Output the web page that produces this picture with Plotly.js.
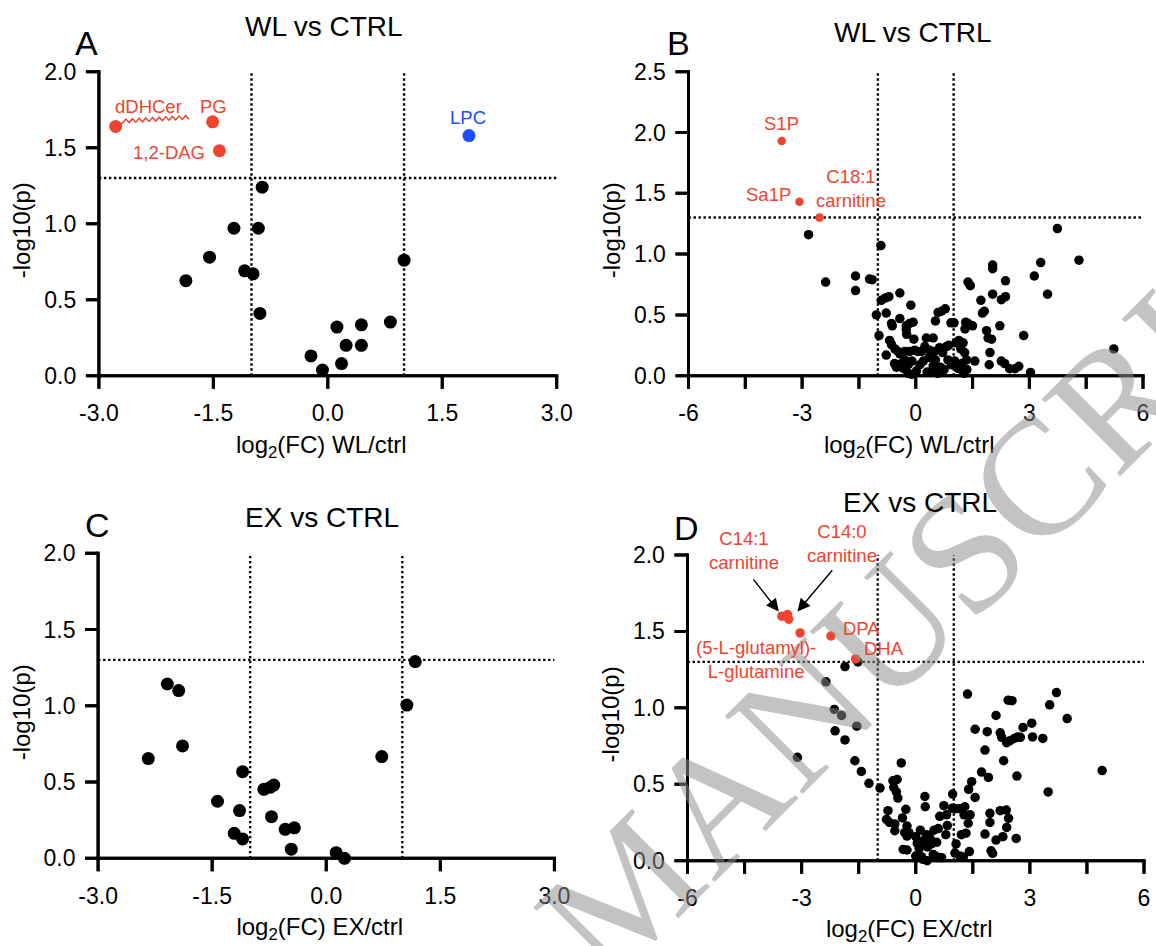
<!DOCTYPE html>
<html>
<head>
<meta charset="utf-8">
<script src="https://cdn.plot.ly/plotly-3.0.1.min.js"></script>
<style>
html,body{margin:0;padding:0;background:#ffffff;}
#chart{width:1156px;height:946px;}
</style>
</head>
<body>
<div id="chart"></div>
<script>
// ---------- DATA ----------
// Panel A : WL vs CTRL (lipid classes)
const aBlackX = [-0.86,-1.23,-0.91,-1.55,-1.86,-1.09,-0.98,-0.89,1.00,0.12,0.44,0.82,0.24,0.44,-0.22,0.18,-0.07];
const aBlackY = [1.24,0.97,0.97,0.78,0.625,0.69,0.67,0.41,0.76,0.32,0.335,0.353,0.20,0.20,0.13,0.08,0.037];
const aRedNames = ['dDHCer','PG','1,2-DAG'];
const aRedX = [-2.78,-1.51,-1.42];
const aRedY = [1.64,1.67,1.48];
const aBlueNames = ['LPC'];
const aBlueX = [1.85];
const aBlueY = [1.58];

// Panel B : WL vs CTRL (metabolites)
const bBlackX = [-2.83,-2.38,-1.59,-1.59,-1.22,-1.15,-0.92,-0.91,-0.80,-0.71,-1.04,-0.78,-0.42,-0.13,-0.64,-0.62,-0.42,-0.25,-0.16,-0.07,
  -0.25,-0.24,-0.97,-0.69,-0.64,-0.55,-0.47,-0.78,-0.42,-0.29,-0.16,-0.03,-0.51,-0.38,-0.29,-0.20,-0.10,-0.20,-0.11,0.02,
  0.11,-0.33,0.24,0.28,0.37,0.46,0.52,0.59,0.68,0.78,0.50,0.63,0.52,0.46,0.41,0.71,0.81,0.87,0.93,1.01,
  0.85,0.94,1.03,1.12,1.20,1.06,1.14,1.25,1.19,1.29,1.34,1.32,1.38,1.50,1.30,1.38,1.44,1.56,1.72,1.76,
  1.81,1.87,1.91,2.00,1.96,1.94,2.03,2.03,2.03,2.22,2.26,2.37,2.37,2.26,2.35,2.48,2.62,2.72,2.85,3.03,
  3.13,3.30,3.48,3.74,4.31,5.23,0.30,0.35,0.20,0.15,0.58,0.65,0.75,1.27,1.35,1.22,-0.56,-0.05,0.05];
const bBlackY = [1.16,0.77,0.82,0.70,0.795,0.79,1.07,0.62,0.64,0.65,0.50,0.515,0.68,0.58,0.43,0.41,0.47,0.41,0.43,0.44,
  0.38,0.34,0.33,0.29,0.255,0.22,0.20,0.17,0.18,0.20,0.20,0.21,0.07,0.10,0.13,0.09,0.12,0.02,0.01,0.04,
  0.09,0.06,0.24,0.31,0.21,0.31,0.45,0.52,0.53,0.55,0.20,0.23,0.13,0.08,0.03,0.19,0.24,0.25,0.435,0.435,
  0.13,0.09,0.12,0.06,0.07,0.27,0.29,0.27,0.22,0.19,0.13,0.44,0.43,0.41,0.385,0.77,0.74,0.12,0.62,0.515,
  0.53,0.37,0.31,0.30,0.19,0.09,0.91,0.88,0.67,0.41,0.625,0.65,0.78,0.12,0.10,0.058,0.058,0.077,0.33,0.027,
  0.82,0.93,0.67,1.21,0.95,0.22,0.03,0.15,0.12,0.20,0.02,0.07,0.05,0.02,0.05,0.10,0.10,0.30,0.20];
const bRedNames = ['S1P','Sa1P','C18:1 carnitine'];
const bRedX = [-3.54,-3.07,-2.54];
const bRedY = [1.93,1.43,1.30];

// Panel C : EX vs CTRL (lipid classes)
const cBlackX = [1.17,1.06,0.73,-2.09,-1.94,-1.89,-2.34,-1.10,-1.43,-1.14,-1.21,-1.10,-0.82,-0.735,-0.69,-0.72,-0.54,-0.42,-0.46,0.13,0.24];
const cBlackY = [1.29,1.005,0.667,1.143,1.10,0.737,0.654,0.568,0.374,0.313,0.164,0.127,0.452,0.466,0.48,0.273,0.19,0.20,0.06,0.037,0.0];

// Panel D : EX vs CTRL (metabolites)
const dBlackX = [-1.86,-1.52,-2.36,-2.14,-1.95,-2.12,-1.86,-1.55,-3.11,-1.60,-1.43,-1.23,-0.94,-0.60,-0.49,-0.58,-0.51,-0.47,-0.38,-0.73,
  -0.26,-0.77,-0.69,-0.55,-0.35,-0.23,-0.55,-0.29,-0.23,-0.18,-0.33,-0.23,0.00,0.04,0.09,0.15,0.19,0.24,0.25,0.28,
  0.37,0.41,0.31,0.46,0.57,0.68,0.63,0.74,0.81,0.83,0.79,0.59,0.97,0.96,1.06,1.16,1.29,1.06,1.03,1.16,
  1.25,1.41,1.20,1.32,1.38,1.43,1.27,1.39,1.47,1.56,1.56,1.73,1.91,1.82,1.88,1.95,1.95,1.82,1.98,2.02,
  2.11,2.22,2.26,2.39,2.48,2.59,2.68,2.75,2.31,2.66,2.22,2.38,2.44,2.39,2.29,2.11,2.64,2.43,2.53,2.82,
  3.05,3.07,3.34,3.48,3.52,3.98,1.36,3.70,4.90,0.20,0.12,0.48,0.55,0.00,0.30];
const dBlackY = [1.27,1.30,1.17,0.99,0.95,0.85,0.79,0.88,0.676,0.654,0.584,0.506,0.475,0.523,0.532,0.48,0.45,0.41,0.64,0.327,
  0.336,0.27,0.25,0.24,0.28,0.227,0.196,0.183,0.161,0.183,0.074,0.07,0.157,0.113,0.08,0.026,0.009,0.42,0.353,0.17,
  0.15,0.11,0.09,0.04,0.025,0.02,0.29,0.36,0.30,0.23,0.17,0.21,0.436,0.343,0.34,0.34,0.353,0.11,0.05,0.03,
  0.025,0.06,0.17,0.18,0.245,0.30,0.30,0.467,0.517,0.414,0.86,0.58,0.545,0.724,0.844,0.31,0.25,0.174,0.065,0.048,
  0.95,0.837,0.807,0.772,0.785,0.80,0.81,0.807,0.654,0.554,0.327,0.331,0.277,0.218,0.157,0.135,0.146,1.05,1.047,0.872,
  0.90,0.81,0.80,0.45,1.02,0.93,1.09,1.10,0.59,0.13,0.20,0.20,0.12,0.03,0.00];
const dRedNames = ['C14:1 carnitine','C14:0 carnitine','C14:0 carnitine','(5-L-glutamyl)-L-glutamine','DPA','DHA'];
const dRedX = [-3.52,-3.37,-3.34,-3.04,-2.23,-1.58];
const dRedY = [1.60,1.61,1.58,1.49,1.47,1.32];

// thresholds
const fcThreshold = 1;          // |log2 FC| = 1
const pThreshold = 1.301;       // -log10(0.05)

// ticks
const xTicksLipVals = [-3,-1.5,0,1.5,3];
const xTicksLipText = ['-3.0','-1.5','0.0','1.5','3.0'];
const xTicksMetVals = [-6,-3,0,3,6];
const xTicksMetText = ['-6','-3','0','3','6'];
const xMinorMetVals = [-4.5,-1.5,1.5,4.5];
const yTicks2Vals = [0,0.5,1,1.5,2];
const yTicks2Text = ['0.0','0.5','1.0','1.5','2.0'];
const yTicks25Vals = [0,0.5,1,1.5,2,2.5];
const yTicks25Text = ['0.0','0.5','1.0','1.5','2.0','2.5'];

// ---------- STYLE ----------
const RED = '#ee4430';
const BLUE = '#1a4dff';
const FONT = 'Liberation Sans, Arial, Helvetica, sans-serif';
const W = 1156, H = 946;
const px = v => v / W;
const py = v => 1 - v / H;
const CLEAR = 'rgba(0,0,0,0)';
const TICK = 13;                       // tick length, px
const LW = 3;                          // axis / tick thickness, px
const PAD = {l: 16, b: 16, r: 3, t: 3}; // room kept inside the plot area for the axis frame and ticks

// panel axis-frame positions in page pixels: [left, right, top, bottom]
const boxA = [98.9, 556.7, 71.7, 375.7];
const boxB = [688.5, 1143, 71.7, 375.7];
const boxC = [98.1, 554.4, 553.3, 858.3];
const boxD = [687.5, 1144, 555, 860.7];

function ux(box, xr) { return (xr[1] - xr[0]) / (box[1] - box[0]); }
function uy(box, yr) { return (yr[1] - yr[0]) / (box[3] - box[2]); }

function xAxis(box, anchor, xr, vals, text, title) {
  const u = ux(box, xr);
  return {
    domain: [px(box[0] - PAD.l), px(box[1] + PAD.r)], anchor: anchor,
    range: [xr[0] - PAD.l * u, xr[1] + PAD.r * u],
    showline: false, ticks: 'outside', ticklen: 1, tickwidth: 1, tickcolor: CLEAR,
    tickmode: 'array', tickvals: vals, ticktext: text,
    tickfont: {family: FONT, size: 23, color: 'black'},
    showgrid: false, zeroline: false,
    title: {text: title, font: {family: FONT, size: 24, color: 'black'}, standoff: 10}
  };
}
function yAxis(box, anchor, yr, vals, text) {
  const u = uy(box, yr);
  return {
    domain: [py(box[3] + PAD.b), py(box[2] - PAD.t)], anchor: anchor,
    range: [yr[0] - PAD.b * u, yr[1] + PAD.t * u],
    showline: false, ticks: 'outside', ticklen: 1, tickwidth: 1, tickcolor: CLEAR,
    tickmode: 'array', tickvals: vals, ticktext: text,
    tickfont: {family: FONT, size: 23, color: 'black'},
    showgrid: false, zeroline: false,
    title: {text: '-log10(p)', font: {family: FONT, size: 24, color: 'black'}, standoff: 6}
  };
}

function pts(x, y, xa, ya, color, size) {
  return {type: 'scatter', mode: 'markers', x: x, y: y, xaxis: xa, yaxis: ya,
    marker: {color: color, size: size, line: {width: 0}}, cliponaxis: false, hoverinfo: 'skip', showlegend: false};
}

// axis frame and outside tick marks as filled bars (solid black rectangles)
function frameBars(box, xa, ya, xr, yr, xt, yt, xm) {
  const u = ux(box, xr), v = uy(box, yr);
  const bar = (o) => Object.assign({type: 'bar', xaxis: xa, yaxis: ya, cliponaxis: false, hoverinfo: 'skip', showlegend: false,
    marker: {color: 'black', line: {width: 0}}}, o);
  const xTicks = xt.concat(xm || []);
  return [
    // x axis line
    bar({orientation: 'v', x: [(xr[0] + xr[1]) / 2], y: [LW * v], base: [yr[0] - (LW / 2) * v], width: [(xr[1] - xr[0]) + LW * u]}),
    // y axis line
    bar({orientation: 'v', x: [xr[0]], y: [(yr[1] - yr[0]) + LW * v], base: [yr[0] - (LW / 2) * v], width: [LW * u]}),
    // x ticks
    bar({orientation: 'v', x: xTicks, y: xTicks.map(() => TICK * v), base: xTicks.map(() => yr[0] - TICK * v),
      width: xTicks.map(() => LW * u)}),
    // y ticks
    bar({orientation: 'h', y: yt, x: yt.map(() => TICK * u), base: yt.map(() => xr[0] - TICK * u),
      width: yt.map(() => LW * v)})
  ];
}

const data = [].concat(
  frameBars(boxA, 'x', 'y', [-3, 3], [0, 2], xTicksLipVals, yTicks2Vals, null),
  frameBars(boxB, 'x2', 'y2', [-6, 6], [0, 2.5], xTicksMetVals, yTicks25Vals, xMinorMetVals),
  frameBars(boxC, 'x3', 'y3', [-3, 3], [0, 2], xTicksLipVals, yTicks2Vals, null),
  frameBars(boxD, 'x4', 'y4', [-6, 6], [0, 2], xTicksMetVals, yTicks2Vals, xMinorMetVals),
  [
    pts(aBlackX, aBlackY, 'x', 'y', 'black', 13),
    pts(aRedX, aRedY, 'x', 'y', RED, 13),
    pts(aBlueX, aBlueY, 'x', 'y', BLUE, 13),
    pts(bBlackX, bBlackY, 'x2', 'y2', 'black', 9.5),
    pts(bRedX, bRedY, 'x2', 'y2', RED, 8.5),
    pts(cBlackX, cBlackY, 'x3', 'y3', 'black', 13),
    pts(dBlackX, dBlackY, 'x4', 'y4', 'black', 9.5),
    pts(dRedX, dRedY, 'x4', 'y4', RED, 9.5)
  ]
);

// dotted threshold lines
const DOT = {color: 'black', width: 2.4, dash: '2.4px,2.6px'};
function thresholds(xa, ya, xr, ytop) {
  return [
    {type: 'line', xref: xa, yref: ya, x0: -fcThreshold, x1: -fcThreshold, y0: 0, y1: ytop, line: DOT, layer: 'below'},
    {type: 'line', xref: xa, yref: ya, x0: fcThreshold, x1: fcThreshold, y0: 0, y1: ytop, line: DOT, layer: 'below'},
    {type: 'line', xref: xa, yref: ya, x0: xr[0], x1: xr[1], y0: pThreshold, y1: pThreshold, line: DOT, layer: 'below'}
  ];
}

// the same frame again as filled rectangles (identical geometry, drawn under the traces)
function frameRects(box, xa, ya, xr, yr, xt, yt, xm) {
  const u = ux(box, xr), v = uy(box, yr);
  const r = (x0, x1, y0, y1) => ({type: 'rect', xref: xa, yref: ya, x0: x0, x1: x1, y0: y0, y1: y1,
    fillcolor: 'black', line: {width: 0}, layer: 'below'});
  const s = [
    r(xr[0] - (LW / 2) * u, xr[1] + (LW / 2) * u, yr[0] - (LW / 2) * v, yr[0] + (LW / 2) * v),
    r(xr[0] - (LW / 2) * u, xr[0] + (LW / 2) * u, yr[0] - (LW / 2) * v, yr[1] + (LW / 2) * v)
  ];
  xt.concat(xm || []).forEach(t => s.push(r(t - (LW / 2) * u, t + (LW / 2) * u, yr[0] - TICK * v, yr[0])));
  yt.forEach(t => s.push(r(xr[0] - TICK * u, xr[0], t - (LW / 2) * v, t + (LW / 2) * v)));
  return s;
}

const shapes = [].concat(
  thresholds('x', 'y', [-3, 3], 2),
  thresholds('x2', 'y2', [-6, 6], 2.5),
  thresholds('x3', 'y3', [-3, 3], 2),
  thresholds('x4', 'y4', [-6, 6], 2),
  frameRects(boxA, 'x', 'y', [-3, 3], [0, 2], xTicksLipVals, yTicks2Vals, null),
  frameRects(boxB, 'x2', 'y2', [-6, 6], [0, 2.5], xTicksMetVals, yTicks25Vals, xMinorMetVals),
  frameRects(boxC, 'x3', 'y3', [-3, 3], [0, 2], xTicksLipVals, yTicks2Vals, null),
  frameRects(boxD, 'x4', 'y4', [-6, 6], [0, 2], xTicksMetVals, yTicks2Vals, xMinorMetVals)
);

// wavy connector from the dDHCer point to its label
(function () {
  const x0 = aRedX[0] + 0.09, x1 = -1.82, y0 = 1.675, y1 = 1.70, n = 20;
  let p = 'M ' + (aRedX[0] + 0.05) + ' ' + (aRedY[0] + 0.01);
  for (let i = 0; i <= n; i++) {
    const t = i / n;
    const xx = x0 + (x1 - x0) * t;
    const yy = y0 + (y1 - y0) * t + (i % 2 === 0 ? -0.012 : 0.012);
    p += ' L ' + xx.toFixed(4) + ' ' + yy.toFixed(4);
  }
  shapes.push({type: 'path', xref: 'x', yref: 'y', path: p, line: {color: RED, width: 1.5}});
})();

function lab(text, x, y, xa, ya, color, xanchor) {
  return {text: text, x: x, y: y, xref: xa, yref: ya, showarrow: false,
    xanchor: xanchor || 'center', yanchor: 'middle',
    font: {family: FONT, size: 18.5, color: color || RED}};
}
function pap(text, x, y, size, color) {
  return {text: text, x: px(x), y: py(y), xref: 'paper', yref: 'paper', showarrow: false,
    xanchor: 'center', yanchor: 'middle', font: {family: FONT, size: size, color: color || 'black'}};
}

const annotations = [
  // watermark
  {text: 'MANUSCRIPT', x: px(950), y: py(566), xref: 'paper', yref: 'paper', showarrow: false,
   xanchor: 'center', yanchor: 'middle', textangle: -45,
   font: {family: 'Liberation Serif, Times New Roman, serif', size: 168, color: 'rgba(140,140,140,0.52)'}},
  // panel titles and letters
  pap('WL vs CTRL', 324, 27, 28),
  pap('WL vs CTRL', 913, 33, 28),
  pap('EX vs CTRL', 322, 517, 28),
  pap('EX vs CTRL', 920, 502, 28),
  pap('A', 86, 43, 34),
  pap('B', 678, 43, 34),
  pap('C', 97, 525, 34),
  pap('D', 686, 528, 34),
  // panel A labels
  lab(aRedNames[0], -2.35, 1.77, 'x', 'y'),
  lab(aRedNames[1], -1.50, 1.77, 'x', 'y'),
  lab(aRedNames[2], -1.58, 1.47, 'x', 'y', RED, 'right'),
  lab(aBlueNames[0], 1.84, 1.70, 'x', 'y', BLUE),
  // panel B labels
  lab(bRedNames[0], -3.54, 2.075, 'x2', 'y2'),
  lab(bRedNames[1], -3.25, 1.49, 'x2', 'y2', RED, 'right'),
  lab('C18:1<br>carnitine', -1.72, 1.54, 'x2', 'y2'),
  // panel D labels (the two carnitine labels sit above the axis top, so in page coordinates)
  {text: 'C14:1<br>carnitine', x: px(744), y: py(550), xref: 'paper', yref: 'paper', showarrow: false,
   xanchor: 'center', yanchor: 'middle', font: {family: FONT, size: 18.5, color: RED}},
  {text: 'C14:0<br>carnitine', x: px(842), y: py(543), xref: 'paper', yref: 'paper', showarrow: false,
   xanchor: 'center', yanchor: 'middle', font: {family: FONT, size: 18.5, color: RED}},
  lab(dRedNames[4], -1.96, 1.52, 'x4', 'y4', RED, 'left'),
  lab(dRedNames[5], -1.41, 1.39, 'x4', 'y4', RED, 'left'),
  lab('(5-L-glutamyl)-<br>L-glutamine', -4.2, 1.315, 'x4', 'y4'),
  // arrows
  {text: '', x: -3.60, y: 1.63, ax: -4.30, ay: 1.85, xref: 'x4', yref: 'y4', axref: 'x4', ayref: 'y4',
   showarrow: true, arrowhead: 2, arrowsize: 1.8, arrowwidth: 1.4, arrowcolor: 'black'},
  {text: '', x: -3.11, y: 1.63, ax: -2.16, ay: 1.91, xref: 'x4', yref: 'y4', axref: 'x4', ayref: 'y4',
   showarrow: true, arrowhead: 2, arrowsize: 1.8, arrowwidth: 1.4, arrowcolor: 'black'}
];

const layout = {
  width: W, height: H,
  margin: {l: 0, r: 0, t: 0, b: 0, pad: 0},
  paper_bgcolor: 'white', plot_bgcolor: 'white',
  showlegend: false, barmode: 'overlay',
  font: {family: FONT, color: 'black'},
  xaxis: xAxis(boxA, 'y', [-3, 3], xTicksLipVals, xTicksLipText, 'log<sub>2</sub>(FC) WL/ctrl'),
  yaxis: yAxis(boxA, 'x', [0, 2], yTicks2Vals, yTicks2Text),
  xaxis2: xAxis(boxB, 'y2', [-6, 6], xTicksMetVals, xTicksMetText, 'log<sub>2</sub>(FC) WL/ctrl'),
  yaxis2: yAxis(boxB, 'x2', [0, 2.5], yTicks25Vals, yTicks25Text),
  xaxis3: xAxis(boxC, 'y3', [-3, 3], xTicksLipVals, xTicksLipText, 'log<sub>2</sub>(FC) EX/ctrl'),
  yaxis3: yAxis(boxC, 'x3', [0, 2], yTicks2Vals, yTicks2Text),
  xaxis4: xAxis(boxD, 'y4', [-6, 6], xTicksMetVals, xTicksMetText, 'log<sub>2</sub>(FC) EX/ctrl'),
  yaxis4: yAxis(boxD, 'x4', [0, 2], yTicks2Vals, yTicks2Text),
  shapes: shapes,
  annotations: annotations
};

Plotly.newPlot('chart', data, layout, {displayModeBar: false});
</script>
</body>
</html>
